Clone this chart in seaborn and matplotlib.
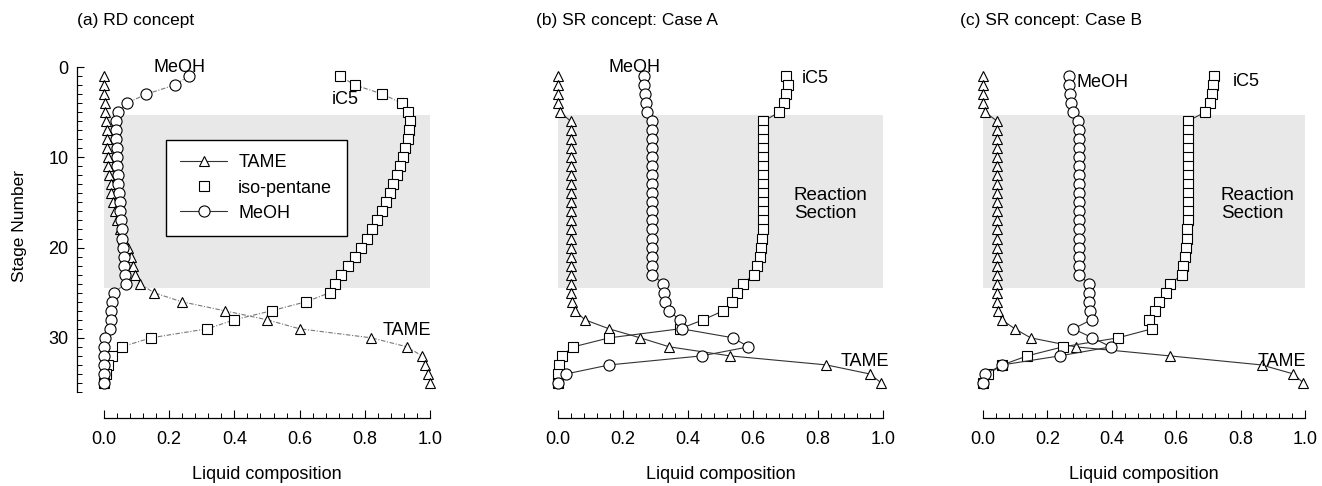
import numpy as np
import pandas as pd
import matplotlib
matplotlib.use("Agg")
import matplotlib.pyplot as plt
from matplotlib.ticker import MultipleLocator, FixedLocator, FuncFormatter
from matplotlib.lines import Line2D
import seaborn as sns

# ---------------- data ----------------
stages = list(range(1, 36))

# (a) RD concept
a_tame = [0.0, 0.0, 0.0, 0.003, 0.004, 0.006, 0.008, 0.008, 0.010, 0.011,
          0.013, 0.016, 0.020, 0.023, 0.028, 0.034, 0.040, 0.048, 0.058, 0.073,
          0.083, 0.088, 0.095, 0.110, 0.153, 0.238, 0.370, 0.500, 0.600, 0.820,
          0.930, 0.975, 0.985, 0.993, 1.000]
a_ic5 = [0.723, 0.770, 0.854, 0.913, 0.931, 0.939, 0.937, 0.931, 0.923, 0.916,
         0.908, 0.898, 0.888, 0.878, 0.865, 0.853, 0.837, 0.822, 0.807, 0.788,
         0.770, 0.749, 0.728, 0.708, 0.693, 0.620, 0.514, 0.400, 0.317, 0.144,
         0.054, 0.024, 0.013, 0.006, 0.000]
a_meoh = [0.260, 0.217, 0.130, 0.070, 0.044, 0.037, 0.037, 0.038, 0.039, 0.040,
          0.041, 0.042, 0.044, 0.046, 0.048, 0.050, 0.052, 0.054, 0.056, 0.058,
          0.060, 0.062, 0.064, 0.067, 0.030, 0.024, 0.022, 0.021, 0.018, 0.003,
          0.0, 0.0, 0.0, 0.0, 0.0]

# (b) SR concept: Case A
b_tame = [0.0, 0.0, 0.0, 0.0, 0.006, 0.039, 0.040, 0.040, 0.040, 0.040,
          0.040, 0.040, 0.040, 0.040, 0.040, 0.040, 0.040, 0.040, 0.040, 0.040,
          0.040, 0.040, 0.040, 0.040, 0.041, 0.042, 0.052, 0.083, 0.157, 0.253,
          0.343, 0.529, 0.826, 0.959, 0.995]
b_ic5 = [0.703, 0.707, 0.702, 0.695, 0.681, 0.632, 0.632, 0.632, 0.632, 0.632,
         0.632, 0.632, 0.632, 0.632, 0.632, 0.632, 0.632, 0.630, 0.628, 0.625,
         0.620, 0.613, 0.603, 0.568, 0.550, 0.534, 0.509, 0.447, 0.375, 0.158,
         0.047, 0.011, 0.004, 0.0, 0.0]
b_meoh = [0.265, 0.266, 0.268, 0.271, 0.275, 0.288, 0.290, 0.290, 0.290, 0.290,
          0.290, 0.290, 0.290, 0.290, 0.290, 0.290, 0.290, 0.290, 0.290, 0.290,
          0.290, 0.290, 0.290, 0.324, 0.327, 0.330, 0.340, 0.375, 0.380, 0.539,
          0.586, 0.442, 0.158, 0.025, 0.0]

# (c) SR concept: Case B
c_tame = [0.0, 0.0, 0.0, 0.0, 0.006, 0.044, 0.044, 0.044, 0.044, 0.044,
          0.044, 0.044, 0.044, 0.044, 0.044, 0.044, 0.044, 0.044, 0.044, 0.044,
          0.044, 0.044, 0.044, 0.044, 0.044, 0.045, 0.047, 0.058, 0.099, 0.148,
          0.288, 0.580, 0.865, 0.964, 0.995]
c_ic5 = [0.718, 0.713, 0.711, 0.706, 0.690, 0.636, 0.636, 0.636, 0.636, 0.636,
         0.636, 0.636, 0.636, 0.636, 0.636, 0.636, 0.636, 0.635, 0.633, 0.630,
         0.626, 0.622, 0.618, 0.582, 0.567, 0.548, 0.533, 0.515, 0.525, 0.419,
         0.248, 0.137, 0.060, 0.016, 0.0]
c_meoh = [0.267, 0.267, 0.270, 0.272, 0.278, 0.295, 0.297, 0.297, 0.297, 0.297,
          0.297, 0.297, 0.297, 0.297, 0.297, 0.297, 0.297, 0.297, 0.297, 0.297,
          0.297, 0.297, 0.297, 0.329, 0.329, 0.330, 0.331, 0.337, 0.280, 0.340,
          0.397, 0.238, 0.060, 0.007, 0.0]

titles = ["(a) RD concept", "(b) SR concept: Case A", "(c) SR concept: Case B"]
series_names = ["TAME", "iso-pentane", "MeOH"]
x_ticks = [0.0, 0.2, 0.4, 0.6, 0.8, 1.0]
y_ticks = [0, 10, 20, 30]
reaction_zone = (5.3, 24.5)

# ---------------- style ----------------
sns.set_style("ticks")
plt.rcParams["font.family"] = ["Liberation Sans", "DejaVu Sans"]
plt.rcParams.update({
    "text.color": "black",
    "axes.labelcolor": "black",
    "axes.edgecolor": "black",
    "xtick.color": "black",
    "ytick.color": "black",
})

W, H = 1322, 486
fig = plt.figure(figsize=(W / 100, H / 100), dpi=100)

panel_x0 = [104, 558, 983]
panel_w = [326, 325, 322]
y_top, y_bot = 67, 392  # pixel rows of stage 0 and stage 36

markers = {"TAME": ("^", 7.5), "iso-pentane": ("s", 6.8), "MeOH": ("o", 8.0)}
panels = [
    (a_tame, a_ic5, a_meoh),
    (b_tame, b_ic5, b_meoh),
    (c_tame, c_ic5, c_meoh),
]

# annotation positions (data coords) per panel
labels_pos = [
    {"MeOH": (0.153, 0.1), "iC5": (0.70, 3.6), "TAME": (0.855, 29.2)},
    {"MeOH": (0.154, 0.1), "iC5": (0.75, 1.3), "TAME": (0.869, 32.6)},
    {"MeOH": (0.290, 1.7), "iC5": (0.775, 1.6), "TAME": (0.852, 32.6)},
]
title_x = [77, 536, 960]

for i, (tame, ic5, meoh) in enumerate(panels):
    x0, w = panel_x0[i], panel_w[i]
    ax = fig.add_axes([x0 / W, 1 - y_bot / H, w / W, (y_bot - y_top) / H])
    ax.set_xlim(0, 1)
    ax.set_ylim(36, 0)
    ax.patch.set_visible(False)
    ax.axhspan(reaction_zone[0], reaction_zone[1], xmin=0, xmax=1,
               color="#e8e8e8", lw=0, zorder=0)

    if i == 0:
        lkw = dict(color="#777777", lw=0.8, linestyle=(0, (4, 1.5, 1, 1.5)))
    else:
        lkw = dict(color="#333333", lw=0.8, linestyle="-")

    for name, vals in zip(series_names, (tame, ic5, meoh)):
        df = pd.DataFrame({"x": vals, "stage": stages})
        mk, ms = markers[name]
        sns.lineplot(data=df, x="x", y="stage", sort=False, estimator=None,
                     ax=ax, marker=mk, markersize=ms, markerfacecolor="white",
                     markeredgecolor="black", markeredgewidth=0.8,
                     clip_on=False, zorder=3, **lkw)

    for txt, (tx, ty) in labels_pos[i].items():
        ax.text(tx, ty, txt, ha="left", va="center", fontsize=13, zorder=5)
    if i > 0:
        ax.text(0.726 if i == 1 else 0.739, 15.2, "Reaction\nSection",
                ha="left", va="center", fontsize=13.5, linespacing=1.1, zorder=5)

    for s in ("top", "right"):
        ax.spines[s].set_visible(False)
    ax.spines["bottom"].set_position(("outward", 26 * 0.72))
    ax.spines["bottom"].set_linewidth(0.9)
    ax.xaxis.set_major_locator(FixedLocator(x_ticks))
    ax.xaxis.set_minor_locator(MultipleLocator(0.04))
    ax.xaxis.set_major_formatter(FuncFormatter(lambda v, p: f"{v:.1f}"))
    ax.tick_params(axis="x", which="major", direction="in", length=6, width=0.8,
                   labelsize=13, pad=9)
    ax.tick_params(axis="x", which="minor", direction="in", length=3.5, width=0.7)
    ax.set_xlabel("Liquid composition", fontsize=13)
    ax.xaxis.set_label_coords(0.5, (y_bot - 466) / (y_bot - y_top))
    ax.xaxis.label.set_va("top")

    if i == 0:
        ax.spines["left"].set_position(("outward", 27 * 0.72))
        ax.spines["left"].set_linewidth(0.9)
        ax.yaxis.set_major_locator(FixedLocator(y_ticks))
        ax.yaxis.set_minor_locator(MultipleLocator(1))
        ax.tick_params(axis="y", which="major", direction="in", length=5,
                       width=0.8, labelsize=13, pad=6)
        ax.tick_params(axis="y", which="minor", direction="in", length=3.5,
                       width=0.7)
        ax.set_ylabel("Stage Number", fontsize=12.5, va="center", ha="center")
        ax.yaxis.set_label_coords((20 - x0) / w, (y_bot - 226) / (y_bot - y_top))

        handles = [
            Line2D([], [], color="#333333", lw=0.8, marker="^", markersize=7.5,
                   markerfacecolor="white", markeredgecolor="black",
                   markeredgewidth=0.8),
            Line2D([], [], lw=0, marker="s", markersize=6.8,
                   markerfacecolor="white", markeredgecolor="black",
                   markeredgewidth=0.8),
            Line2D([], [], color="#333333", lw=0.8, marker="o", markersize=8,
                   markerfacecolor="white", markeredgecolor="black",
                   markeredgewidth=0.8),
        ]
        leg = ax.legend(handles, series_names, loc="upper left",
                        bbox_to_anchor=(166 / W, 1 - 140 / H),
                        bbox_transform=fig.transFigure, borderaxespad=0,
                        fontsize=13, frameon=True, fancybox=False,
                        handlelength=2.6, labelspacing=0.45, borderpad=0.8,
                        handletextpad=0.6, framealpha=1.0, facecolor="white")
        leg.get_frame().set_edgecolor("black")
        leg.get_frame().set_linewidth(1.0)
        leg.set_zorder(6)
    else:
        ax.spines["left"].set_visible(False)
        ax.tick_params(axis="y", which="both", left=False, labelleft=False)
        ax.set_ylabel("")

    fig.text(title_x[i] / W, 1 - 21 / H, titles[i], ha="left", va="center",
             fontsize=12.5)

fig.savefig("out.png", dpi=100)
